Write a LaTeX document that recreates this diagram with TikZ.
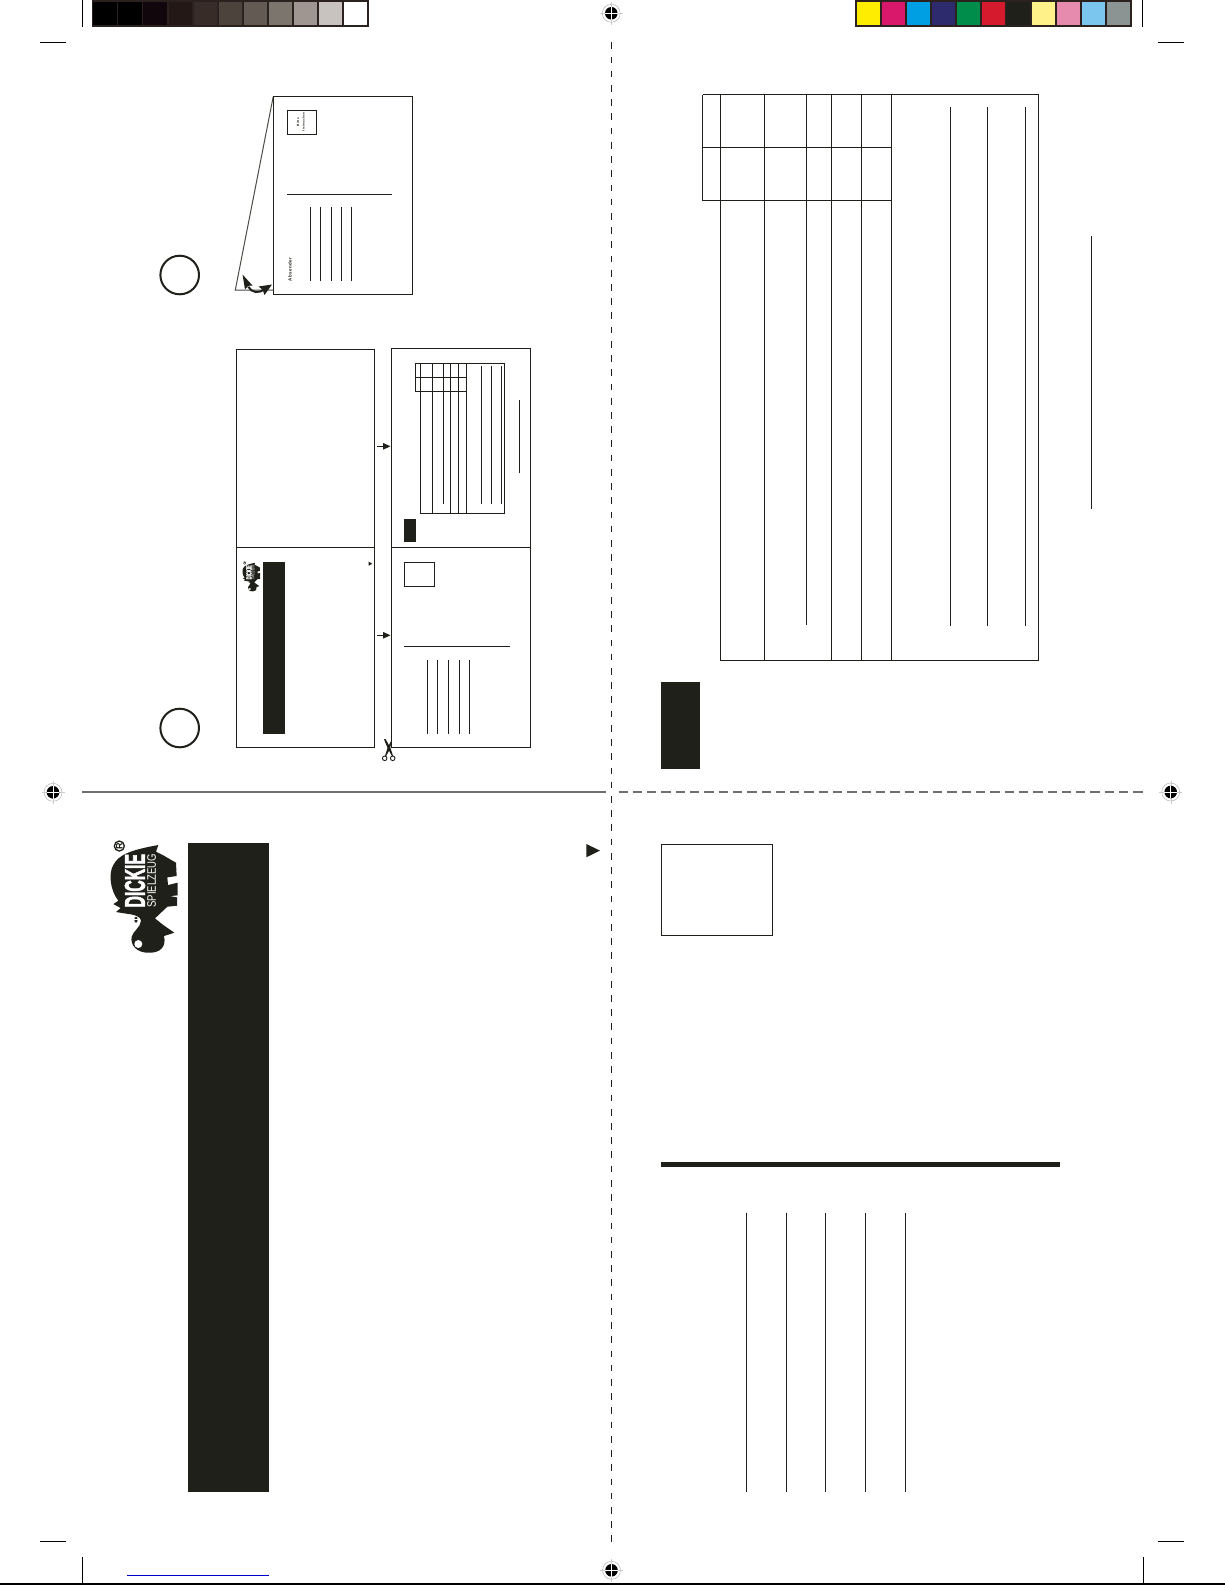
\documentclass[tikz,border=0pt]{standalone}
\usepackage{fontspec}
\usepackage{graphicx}
\setmainfont{Liberation Sans}
\newfontfamily\logofont[UprightFont={* Bold},FakeBold=2.5]{Liberation Sans}
\newfontfamily\smallfont[UprightFont={* Bold},LetterSpace=8]{Liberation Sans}
\usetikzlibrary{arrows.meta}
\definecolor{ink}{HTML}{1F2019}
\definecolor{barframe}{HTML}{2B2220}
\definecolor{sepgray}{HTML}{6F6F6E}
\definecolor{linkblue}{HTML}{0000CC}
\definecolor{ga}{HTML}{000000}\definecolor{gb}{HTML}{000000}\definecolor{gc}{HTML}{10060C}
\definecolor{gd}{HTML}{231815}\definecolor{ge}{HTML}{372C28}\definecolor{gf}{HTML}{4C433D}
\definecolor{gg}{HTML}{635A53}\definecolor{gh}{HTML}{7B756E}\definecolor{gi}{HTML}{9F9591}
\definecolor{gj}{HTML}{C9C3BF}\definecolor{gk}{HTML}{FFFFFF}
\definecolor{ca}{HTML}{FFED00}\definecolor{cb}{HTML}{D9186B}\definecolor{cc}{HTML}{009EE3}
\definecolor{cd}{HTML}{2E2A6E}\definecolor{ce}{HTML}{008D4C}\definecolor{cf}{HTML}{D51A2D}
\definecolor{cg}{HTML}{1F2019}\definecolor{ch}{HTML}{FFF18A}\definecolor{ci}{HTML}{E68BAD}
\definecolor{cj}{HTML}{7AC6EE}\definecolor{ck}{HTML}{8C9393}
\tikzset{
  rule/.style={draw=ink,line width=1.2pt},
  thinrule/.style={draw=ink,line width=1pt},
  trim/.style={draw=black,line width=0.9pt},
  solidink/.style={fill=ink,draw=none},
  stepring/.style={draw=ink,line width=2pt},
  tinytext/.style={inner sep=0pt,rotate=90,text=ink},
  panelarrow/.style={draw=ink,line width=1pt,-{Triangle[length=7.5pt,width=6.5pt]}},
}
% registration mark
\newcommand{\regmark}[2]{%
  \begin{scope}[shift={(#1,#2)}]
    \draw[gray!70,line width=0.4pt] (0,0) circle (9);
    \draw[gray!40,line width=0.4pt] (-11.5,0) -- (11.5,0) (0,-11.5) -- (0,11.5);
    \fill[black] (0,0) circle (6.3);
    \draw[white,line width=0.9pt] (-6.3,0) -- (6.3,0) (0,-6.3) -- (0,6.3);
  \end{scope}}
% logo: #1,#2 top-left corner, #3 size factor
\newcommand{\rhinologo}[4]{%
  \begin{scope}[shift={(#1,#2)},scale=#3/3,shift={(-240,-212)}]
    \fill[ink] (385,225) -- (378,245) -- (400,256) -- (438,278) -- (440,318) -- (412,322) -- (414,345)
      -- (443,338) -- (443,376) -- (420,378) -- (441,382) -- (441,407) -- (412,410) -- (375,445)
      -- (400,465) -- (433,488) -- (402,498) .. controls (410,530) and (390,548) .. (360,548)
      .. controls (320,550) and (300,525) .. (305,500) .. controls (310,482) and (332,472) .. (333,452)
      .. controls (333,440) and (315,434) .. (290,431)
      -- (258,426) -- (272,414) -- (250,402) -- (265,392) .. controls (240,360) and (235,310) .. (250,285)
      .. controls (265,255) and (300,240) .. (385,225) -- cycle;
    \fill[white] (325,522) circle (12);
    \fill[ink] (318,449) ellipse (5 and 9);
    \draw[white,line width=#3*0.8pt] (308,449) -- (326,449);
    \draw[ink,line width=#3*1.3pt] (268,228) circle (15);
    \node[tinytext,text=white] (#4d) at (315,332) {\resizebox{\dimexpr#3\dimexpr53.5pt\relax\relax}{\dimexpr#3\dimexpr20pt\relax\relax}{\logofont DICKIE}};
    \node[tinytext,text=white] (#4s) at (365,332) {\resizebox{\dimexpr#3\dimexpr53.5pt\relax\relax}{\dimexpr#3\dimexpr8.6pt\relax\relax}{SPIELZEUG}};
    \node[tinytext,text=ink] (#4r) at (268,228) {\resizebox{\dimexpr#3\dimexpr6.5pt\relax\relax}{\dimexpr#3\dimexpr6.5pt\relax\relax}{\textbf{R}}};
  \end{scope}}
\begin{document}
\begin{tikzpicture}[x=1pt,y=-1pt]
\path[use as bounding box,fill=white] (0,0) rectangle (1225,1585);

% colour bars
\fill[barframe] (92,0) rectangle (368.5,26.7);
\foreach \i/\c in {0/ga,1/gb,2/gc,3/gd,4/ge,5/gf,6/gg,7/gh,8/gi,9/gj,10/gk}
  \fill[\c] ({93.3+25.07*\i},2) rectangle +(23.4,23);
\fill[barframe] (855,0) rectangle (1132,26.7);
\foreach \i/\c in {0/ca,1/cb,2/cc,3/cd,4/ce,5/cf,6/cg,7/ch,8/ci,9/cj,10/ck}
  \fill[\c] ({856.9+25*\i},2) rectangle +(23.2,23);

% trim marks
\draw[trim] (82.3,0) -- (82.3,26.7);
\draw[trim] (1142.4,0) -- (1142.4,26.7);
\draw[trim] (40,42.3) -- (65.6,42.3);
\draw[trim] (1158,42.3) -- (1184,42.3);
\draw[trim] (40,1541.7) -- (66,1541.7);
\draw[trim] (1158,1541.7) -- (1184,1541.7);
\draw[trim] (82.5,1557) -- (82.5,1584);
\draw[trim] (1143,1557) -- (1143,1584);
\draw[draw=black,line width=1.1pt] (0,1584) -- (1225,1584);
\draw[linkblue,line width=1pt] (127,1575.3) -- (269,1575.3);

% registration marks
\regmark{611.3}{13.3}
\regmark{611.5}{1570.3}
\regmark{53}{792.3}
\regmark{1170.7}{792}

% fold and cut lines
\draw[draw=ink,line width=1.1pt,dash pattern=on 6.7pt off 7.52pt] (611.3,42.3) -- (611.3,1541.7);
\draw[draw=sepgray,line width=2pt] (82.3,792) -- (605.8,792);
\draw[draw=sepgray,line width=2pt,dash pattern=on 9.3pt off 5pt] (618.5,792) -- (1143,792);

% step 1 : folded card
\draw[stepring] (179.7,275) circle (19.3);
\draw[draw=ink!80,line width=1pt] (273.2,96.7) -- (235.3,290) -- (273.2,290);
\draw[rule,fill=white] (273.2,96.3) rectangle (412.4,294.5);
\draw[thinrule] (287.5,110.3) rectangle (316.7,134.7);
\node[tinytext] (stamp1) at (298,122) {\resizebox{8pt}{!}{\smallfont Bitte}};
\node[tinytext] (stamp2) at (303.5,122) {\resizebox{18pt}{!}{\smallfont freimachen}};
\node[tinytext] (sender) at (290,269.5) {\resizebox{23pt}{!}{\smallfont Absender}};
\draw[thinrule] (287,194.3) -- (391.5,194.3);
\foreach \x in {310.4,320.3,331.4,341.2,351.5} \draw[thinrule] (\x,207) -- (\x,281);
% curved fold arrow
\draw[draw=ink,line width=2pt] (248.3,286.7) .. controls (251,292.5) and (260,294.5) .. (264.3,288.3);
\fill[ink] (242.5,274.5) -- (252.5,285.5) -- (248.3,285.8) -- (245,289.5) -- cycle;
\fill[ink] (272,284.5) -- (258.5,286.5) -- (262.5,289.5) -- (264.5,295) -- cycle;

% step 2 : left panels
\draw[stepring] (179.7,728) circle (19.3);
\draw[rule] (236.3,349.3) rectangle (374.3,747.3);
\draw[rule] (236.3,547.3) -- (374.3,547.3);
\rhinologo{242.3}{561.7}{0.265}{sm}
\fill[solidink] (263,562) rectangle (285,734);
\fill[ink] (368.7,561.7) -- (372.3,563.7) -- (368.7,565.7) -- cycle;

% step 2 : right panels
\draw[rule] (391.3,348.3) rectangle (530.3,747.3);
\draw[rule] (391.3,547.3) -- (530.3,547.3);
\coordinate (pa1) at (377,446.3); \coordinate (pb1) at (390.5,446.3);
\coordinate (pa2) at (377,635.3); \coordinate (pb2) at (390.5,635.3);
\draw[panelarrow] (pa1) -- (pb1);
\draw[panelarrow] (pa2) -- (pb2);
% small table
\draw[thinrule] (415.3,363.3) -- (504.7,363.3) -- (504.7,513.3) -- (420.7,513.3) -- (420.7,363.3);
\draw[thinrule] (415.3,363.3) -- (415.3,391.7) -- (466.3,391.7);
\draw[thinrule] (415.3,377.3) -- (466.3,377.3);
\foreach \x in {432.3,450.3,458.3,466.3} \draw[thinrule] (\x,363.3) -- (\x,513.3);
\draw[thinrule] (443.3,363.3) -- (443.3,503.7);
\foreach \x in {481.3,491.3,501.3} \draw[thinrule] (\x,366) -- (\x,503.7);
\draw[thinrule] (519.3,400) -- (519.3,472.7);
\fill[solidink] (404,519) rectangle (416,542);
% small card back
\draw[thinrule] (404.3,562.3) rectangle (434.7,586.7);
\draw[thinrule] (404,646.3) -- (510,646.3);
\foreach \x in {427.3,437.3,448.3,459.3,469.3} \draw[thinrule] (\x,660) -- (\x,734);
% scissors
\fill[ink] (384,739.3) -- (385.6,739) -- (390.5,748) -- (393,755.8) -- (392,756.1) -- (388,749) -- cycle;
\fill[ink] (391.5,740) -- (391.9,741) -- (389.5,750) -- (386,756.2) -- (385,755.8) -- (387.5,748) -- cycle;
\draw[draw=ink,line width=0.9pt] (384.7,758.3) circle (2.3);
\draw[draw=ink,line width=0.9pt] (392.7,758.3) circle (2.3);

% large table
\draw[rule] (702.6,94.7) -- (1038.6,94.7) -- (1038.6,660.4) -- (720.3,660.4) -- (720.3,94.7);
\draw[rule] (702.6,94.7) -- (702.6,200.3) -- (891.6,200.3);
\draw[rule] (702.6,147.3) -- (891.6,147.3);
\foreach \x in {764.3,831.4,861.5,891.6} \draw[rule] (\x,94.7) -- (\x,660.4);
\draw[rule] (806.7,94.7) -- (806.7,625);
\foreach \x in {950.3,987.3,1025.5} \draw[rule] (\x,107) -- (\x,626);
\draw[rule] (1091.6,235.5) -- (1091.6,509.4);
\fill[solidink] (661,682) rectangle (700,769);

% big box and rule
\draw[rule] (661.4,844.3) rectangle (772.5,935.3);
\fill[ink] (661,1162) rectangle (1060,1167);
\foreach \x in {746.3,786.3,825.3,865.3,905.3} \draw[rule] (\x,1212.7) -- (\x,1492);

% big left column
\rhinologo{110}{840.7}{1}{lg}
\fill[solidink] (188,843) rectangle (269,1492);
\fill[ink] (586.3,844) -- (600,850.6) -- (586.3,857.3) -- cycle;
\end{tikzpicture}
\end{document}
